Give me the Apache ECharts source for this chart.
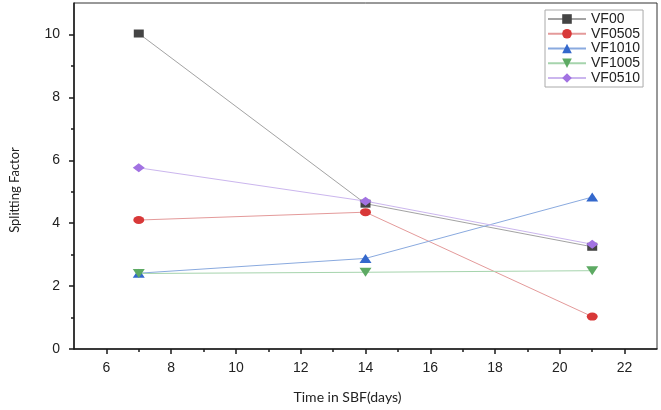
<!DOCTYPE html>
<html>
<head>
<meta charset="utf-8">
<script src="https://cdn.jsdelivr.net/npm/echarts@6/dist/echarts.min.js"></script>
<style>
html,body{margin:0;padding:0;background:#fff;}
#chart{width:661px;height:410px;}
</style>
</head>
<body>
<div id="chart"></div>
<script>
const days = [7, 14, 21];
const VF00   = [10.03, 4.62, 3.25];
const VF0505 = [4.10, 4.35, 1.03];
const VF1010 = [2.41, 2.88, 4.83];
const VF1005 = [2.40, 2.44, 2.49];
const VF0510 = [5.76, 4.70, 3.33];
const xMajorTicks = [6, 8, 10, 12, 14, 16, 18, 20, 22];
const xMinorTicks = [7, 9, 11, 13, 15, 17, 19, 21];
const yMajorTicks = [0, 2, 4, 6, 8, 10];
const yMinorTicks = [1, 3, 5, 7, 9];

const seriesDefs = [
  {name: 'VF00',   data: VF00,   line: '#a3a3a3', mark: '#444444', symbol: 'rect',     size: [10, 8], rot: 0},
  {name: 'VF0505', data: VF0505, line: '#e49a9a', mark: '#d83838', symbol: 'circle',   size: [11, 8], rot: 0},
  {name: 'VF1010', data: VF1010, line: '#8aaadf', mark: '#3468cc', symbol: 'triangle', size: [12, 9], rot: 0},
  {name: 'VF1005', data: VF1005, line: '#a6d4ad', mark: '#5daa63', symbol: 'triangle', size: [12, 9], rot: 180},
  {name: 'VF0510', data: VF0510, line: '#cbb6ee', mark: '#a272e2', symbol: 'diamond',  size: [12, 9], rot: 0}
];

const chart = echarts.init(document.getElementById('chart'), null, {renderer: 'canvas'});
const axisColor = '#1a1a1a';
const labelFont = {fontFamily: 'Liberation Sans', fontSize: 14, color: '#222'};

chart.setOption({
  animation: false,
  backgroundColor: '#ffffff',
  grid: {left: 72, right: 4, top: 3, bottom: 61, show: true, borderColor: '#333', borderWidth: 1, backgroundColor: 'transparent'},
  legend: {
    orient: 'vertical', left: 545, top: 10,
    padding: [2, 3, 2, 2],
    borderColor: '#aaaaaa', borderWidth: 1,
    itemWidth: 38, itemHeight: 12, itemGap: 0.75,
    textStyle: {fontFamily: 'Liberation Sans', fontSize: 14, color: '#222'},
    data: seriesDefs.map(s => s.name)
  },
  xAxis: [{
    type: 'value', min: 5, max: 23,
    name: 'Time in SBF(days)', nameLocation: 'middle', nameGap: 41,
    nameTextStyle: {fontFamily: 'Lato', fontSize: 14, color: '#222', padding: [0, 36, 0, 0]},
    axisLine: {show: true, lineStyle: {color: axisColor, width: 1.5}},
    axisTick: {show: true, customValues: xMajorTicks, length: 5, lineStyle: {color: axisColor, width: 1.5}},
    axisLabel: Object.assign({customValues: xMajorTicks, margin: 12}, labelFont),
    splitLine: {show: false}
  }, {
    type: 'value', min: 5, max: 23, position: 'bottom',
    axisLine: {show: false},
    axisTick: {show: true, customValues: xMinorTicks, length: 3, lineStyle: {color: axisColor, width: 1.5}},
    axisLabel: {show: false},
    splitLine: {show: false}
  }],
  yAxis: [{
    type: 'value', min: 0, max: 11,
    name: 'Splitting Factor', nameLocation: 'middle', nameGap: 53,
    nameTextStyle: {fontFamily: 'Lato', fontSize: 13, color: '#222', padding: [0, 28, 0, 0]},
    axisLine: {show: true, lineStyle: {color: axisColor, width: 1.5}},
    axisTick: {show: true, customValues: yMajorTicks, length: 5, lineStyle: {color: axisColor, width: 1.5}},
    axisLabel: Object.assign({customValues: yMajorTicks, margin: 14}, labelFont),
    splitLine: {show: false}
  }, {
    type: 'value', min: 0, max: 11, position: 'left',
    axisLine: {show: false},
    axisTick: {show: true, customValues: yMinorTicks, length: 3, lineStyle: {color: axisColor, width: 1.5}},
    axisLabel: {show: false},
    splitLine: {show: false}
  }],
  series: seriesDefs.map(s => ({
    name: s.name,
    type: 'line',
    xAxisIndex: 0, yAxisIndex: 0,
    data: days.map((d, i) => [d, s.data[i]]),
    symbol: s.symbol,
    symbolSize: s.size,
    symbolRotate: s.rot,
    showAllSymbol: true,
    lineStyle: {color: s.line, width: 1},
    itemStyle: {color: s.mark, borderWidth: 0},
    emphasis: {disabled: true}
  }))
});
</script>
</body>
</html>
